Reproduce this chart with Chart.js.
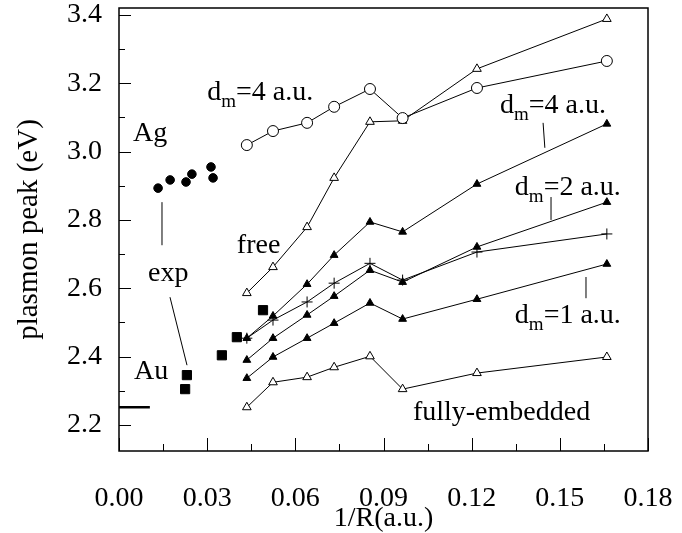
<!DOCTYPE html>
<html>
<head>
<meta charset="utf-8">
<script src="https://cdn.jsdelivr.net/npm/chart.js@4.4.1/dist/chart.umd.min.js"></script>
<style>
  body { margin: 0; background: #fff; }
  canvas { display: block; }
</style>
</head>
<body>
<canvas id="plasmonChart" width="682" height="533"></canvas>
<script>
// 1/R of the calculated clusters (a.u.)
const invR = [0.0435, 0.0524, 0.0640, 0.0732, 0.0854, 0.0965, 0.1218, 0.1660];

// calculated plasmon peaks (eV)
const dm4Ag = [3.019, 3.060, 3.084, 3.131, 3.183, 3.098, 3.186, 3.265];
const freeAu = [2.586, 2.662, 2.779, 2.923, 3.087, 3.090, 3.242, 3.388];
const dm4Au = [2.454, 2.519, 2.612, 2.697, 2.794, 2.765, 2.905, 3.081];
const crossAu = [2.454, 2.507, 2.560, 2.615, 2.673, 2.624, 2.706, 2.759];
const dm2Au = [2.390, 2.454, 2.522, 2.577, 2.653, 2.618, 2.721, 2.852];
const dm1Au = [2.337, 2.399, 2.454, 2.498, 2.557, 2.510, 2.568, 2.671];
const embeddedAu = [2.252, 2.325, 2.340, 2.369, 2.401, 2.305, 2.352, 2.399];

// experiment
const expAgX = [0.0133, 0.0174, 0.0228, 0.0248, 0.0313, 0.0320];
const expAgY = [2.893, 2.917, 2.911, 2.934, 2.955, 2.923];
const expAuX = [0.0225, 0.0231, 0.0350, 0.0401, 0.0490];
const expAuY = [2.305, 2.346, 2.404, 2.457, 2.536];
const bulkAuX = [0, 0.0105];
const bulkAuY = [2.252, 2.252];

// axes
const xMajor = [0, 0.03, 0.06, 0.09, 0.12, 0.15, 0.18];
const xMinor = [0.015, 0.045, 0.075, 0.105, 0.135, 0.165];
const yMajor = [2.2, 2.4, 2.6, 2.8, 3.0, 3.2, 3.4];
const yMinor = [2.3, 2.5, 2.7, 2.9, 3.1, 3.3];

// text in the plot: [main, subscript, rest, x, y(baseline)]
const notes = [
  ['d', 'm', '=4 a.u.', 0.0300, 3.151],
  ['Ag', '', '', 0.0048, 3.031],
  ['free', '', '', 0.0401, 2.703],
  ['exp', '', '', 0.0099, 2.621],
  ['Au', '', '', 0.0051, 2.334],
  ['d', 'm', '=4 a.u.', 0.1296, 3.113],
  ['d', 'm', '=2 a.u.', 0.1347, 2.873],
  ['d', 'm', '=1 a.u.', 0.1347, 2.498],
  ['fully-embedded', '', '', 0.1000, 2.214]
];
// pointer strokes: [x1, y1, x2, y2]
const pointers = [
  [0.01463, 2.852, 0.01463, 2.726],
  [0.01735, 2.574, 0.02314, 2.375],
  [0.1443, 3.084, 0.1449, 3.011],
  [0.1470, 2.867, 0.1470, 2.800],
  [0.1589, 2.633, 0.1589, 2.571]
];

const serif = '"Liberation Serif", "Times New Roman", serif';

function pts(xs, ys) {
  return xs.map((x, i) => ({ x: x, y: ys[i] }));
}

function series(ys, style, radius, fill) {
  return {
    data: pts(invR, ys),
    showLine: true,
    borderColor: '#000',
    borderWidth: 1,
    pointStyle: style,
    pointRadius: radius,
    pointBackgroundColor: fill,
    pointBorderColor: '#000',
    pointBorderWidth: 1
  };
}

const framePlugin = {
  id: 'frame',
  afterDatasetsDraw(chart) {
    const { ctx, chartArea: a, scales: { x, y } } = chart;
    ctx.save();
    ctx.strokeStyle = '#000';
    ctx.lineWidth = 1.5;
    ctx.strokeRect(a.left, a.top, a.right - a.left, a.bottom - a.top);

    ctx.lineWidth = 1;
    ctx.beginPath();
    xMajor.forEach(v => { const p = Math.round(x.getPixelForValue(v)) + 0.5; ctx.moveTo(p, a.bottom); ctx.lineTo(p, a.bottom - 13); });
    xMinor.forEach(v => { const p = Math.round(x.getPixelForValue(v)) + 0.5; ctx.moveTo(p, a.bottom); ctx.lineTo(p, a.bottom - 7); });
    yMajor.forEach(v => { const p = Math.round(y.getPixelForValue(v)) + 0.5; ctx.moveTo(a.left, p); ctx.lineTo(a.left + 12, p); });
    yMinor.forEach(v => { const p = Math.round(y.getPixelForValue(v)) + 0.5; ctx.moveTo(a.left, p); ctx.lineTo(a.left + 6, p); });
    pointers.forEach(s => {
      ctx.moveTo(x.getPixelForValue(s[0]), y.getPixelForValue(s[1]));
      ctx.lineTo(x.getPixelForValue(s[2]), y.getPixelForValue(s[3]));
    });
    ctx.stroke();

    ctx.fillStyle = '#000';
    ctx.textBaseline = 'alphabetic';
    ctx.textAlign = 'left';
    notes.forEach(n => {
      let px = x.getPixelForValue(n[3]);
      const py = y.getPixelForValue(n[4]);
      ctx.font = '28px ' + serif;
      ctx.fillText(n[0], px, py);
      px += ctx.measureText(n[0]).width;
      if (n[1]) {
        ctx.font = '19px ' + serif;
        ctx.fillText(n[1], px, py + 7);
        px += ctx.measureText(n[1]).width;
      }
      if (n[2]) {
        ctx.font = '28px ' + serif;
        ctx.fillText(n[2], px, py);
      }
    });
    ctx.restore();
  }
};

new Chart(document.getElementById('plasmonChart'), {
  type: 'line',
  data: {
    datasets: [
      series(dm4Ag, 'circle', 5.5, '#fff'),
      series(freeAu, 'triangle', 5, '#fff'),
      series(dm4Au, 'triangle', 4.5, '#000'),
      series(crossAu, 'cross', 5.5, '#000'),
      series(dm2Au, 'triangle', 4.5, '#000'),
      series(dm1Au, 'triangle', 4.5, '#000'),
      series(embeddedAu, 'triangle', 5, '#fff'),
      {
        data: pts(expAgX, expAgY), showLine: false,
        pointStyle: 'circle', pointRadius: 4.3,
        pointBackgroundColor: '#000', pointBorderColor: '#000'
      },
      {
        data: pts(expAuX, expAuY), showLine: false,
        pointStyle: 'rect', pointRadius: 6.5,
        pointBackgroundColor: '#000', pointBorderColor: '#000'
      },
      {
        data: pts(bulkAuX, bulkAuY), showLine: true,
        borderColor: '#000', borderWidth: 2.5, pointRadius: 0
      }
    ]
  },
  options: {
    responsive: false,
    animation: false,
    events: [],
    layout: { padding: { top: 8, right: 34, left: 0, bottom: 0 } },
    plugins: { legend: { display: false }, tooltip: { enabled: false } },
    scales: {
      x: {
        type: 'linear',
        min: 0,
        max: 0.18,
        grid: { display: false, drawTicks: false },
        border: { display: false },
        afterBuildTicks: s => { s.ticks = xMajor.map(v => ({ value: v })); },
        afterFit: s => { s.height = 82; s.paddingLeft = 0; s.paddingRight = 0; },
        ticks: {
          color: '#000',
          padding: 31,
          maxRotation: 0,
          font: { family: serif, size: 28 },
          callback: v => v.toFixed(2)
        },
        title: {
          display: true,
          text: '1/R(a.u.)',
          color: '#000',
          padding: 0,
          font: { family: serif, size: 28, lineHeight: 1.05 }
        }
      },
      y: {
        type: 'linear',
        min: 2.124,
        max: 3.42,
        grid: { display: false, drawTicks: false },
        border: { display: false },
        afterBuildTicks: s => { s.ticks = yMajor.map(v => ({ value: v })); },
        afterFit: s => { s.width = 119; s.paddingTop = 0; s.paddingBottom = 0; },
        ticks: {
          color: '#000',
          padding: 17,
          font: { family: serif, size: 28 },
          callback: v => v.toFixed(1)
        },
        title: {
          display: true,
          text: 'plasmon peak (eV)',
          color: '#000',
          padding: { top: 12 },
          font: { family: serif, size: 29 }
        }
      }
    }
  },
  plugins: [framePlugin]
});
</script>
</body>
</html>
